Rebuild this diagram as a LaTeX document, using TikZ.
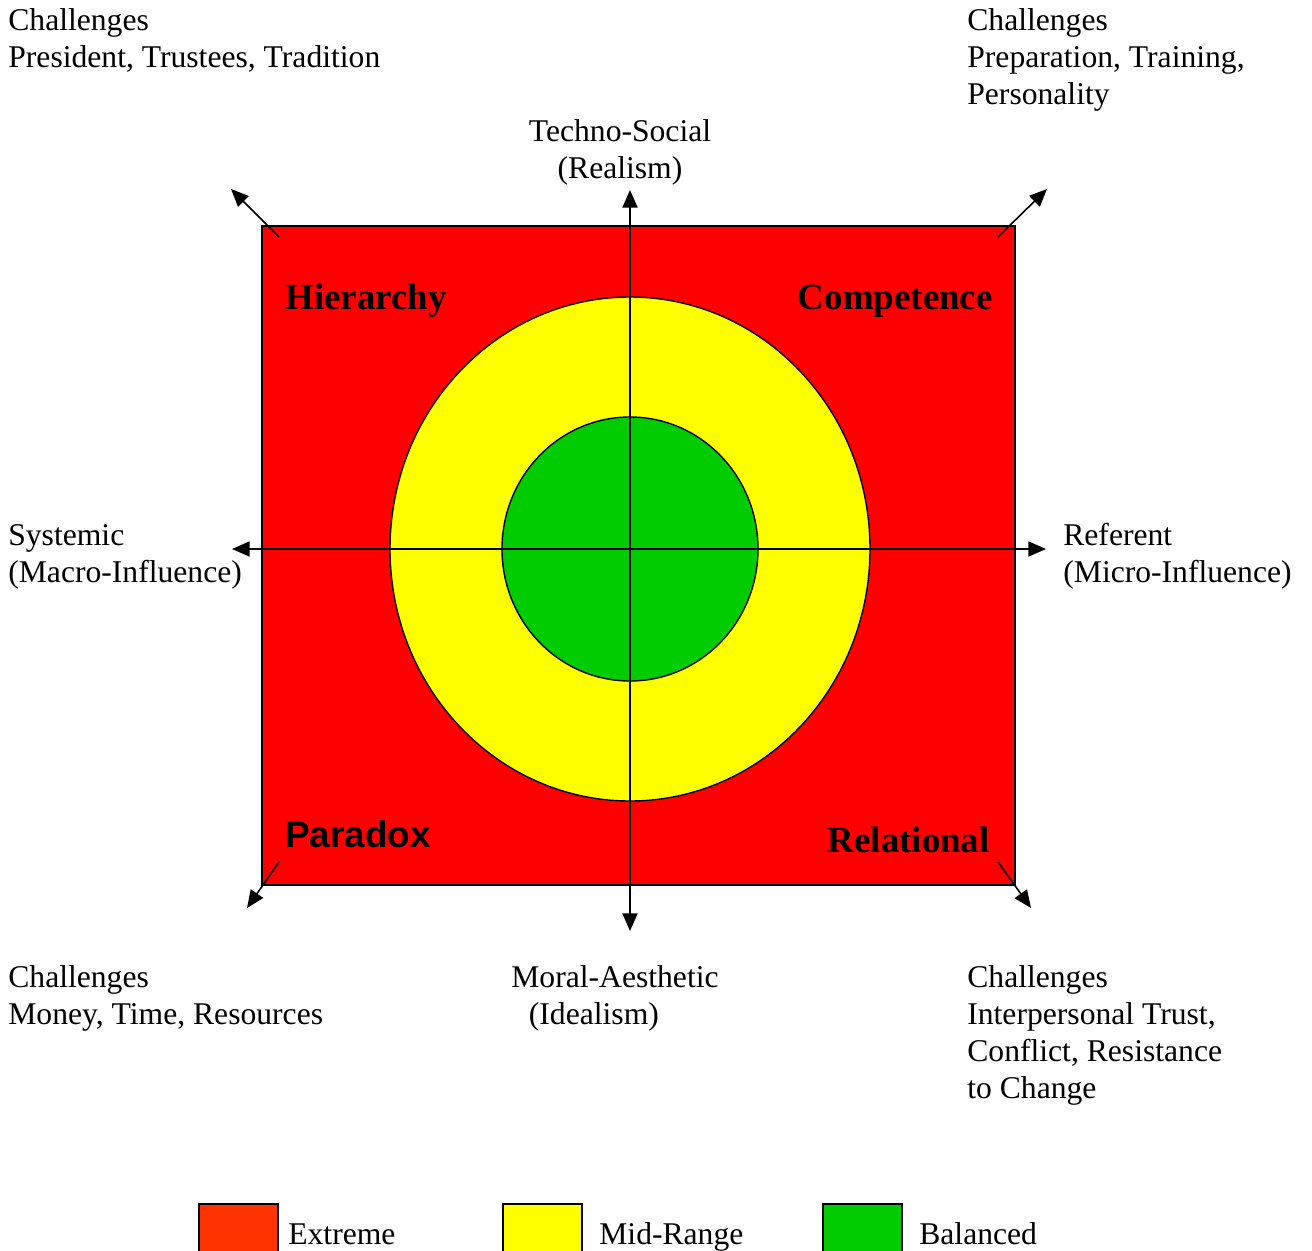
\documentclass[tikz,border=0pt]{standalone}
\usepackage{fontspec}
\setmainfont{Liberation Serif}
\newfontfamily\arialfont{Liberation Sans}
\usetikzlibrary{arrows.meta}

\definecolor{boardred}{HTML}{FF0000}
\definecolor{keyred}{HTML}{FF3300}
\definecolor{midyellow}{HTML}{FFFF00}
\definecolor{balgreen}{HTML}{00CC00}

\begin{document}
\begin{tikzpicture}[
    x=0.02cm, y=-0.02cm,
    txt/.style={font=\fontsize{18}{21}\selectfont, inner sep=0pt, align=left},
    quad/.style={font=\fontsize{21}{24}\selectfont\bfseries, inner sep=0pt},
    axis/.style={line width=1.1pt, >={Triangle[length=10pt, width=8.5pt]}},
    diag/.style={->, line width=0.9pt, >={Triangle[length=10pt, width=8.5pt]}},
    key/.style={draw, line width=0.8pt, inner sep=0pt,
        minimum width=1.58cm, minimum height=0.96cm},
]
\useasboundingbox (0,0) rectangle (1312,1251);

% --- board and rings ---
\draw[fill=boardred, line width=1.1pt] (262,226) rectangle (1015,885);
\draw[fill=midyellow, line width=0.8pt] (630,549) ellipse [x radius=240, y radius=252];
\draw[fill=balgreen, line width=0.8pt] (630,549) ellipse [x radius=128, y radius=132];

% --- axes ---
\coordinate (up) at (630,190);
\coordinate (down) at (630,931);
\coordinate (left) at (232,549);
\coordinate (right) at (1046,549);
\draw[axis, <->] (down) -- (up);
\draw[axis, <->] (left) -- (right);

% --- corner arrows ---
\coordinate (tlIn) at (279,237);  \coordinate (tlOut) at (231,189);
\coordinate (trIn) at (998,237);  \coordinate (trOut) at (1047,189);
\coordinate (blIn) at (279,862);  \coordinate (blOut) at (247,908);
\coordinate (brIn) at (998,862);  \coordinate (brOut) at (1031,908);
\draw[diag] (tlIn) -- (tlOut);
\draw[diag] (trIn) -- (trOut);
\draw[diag] (blIn) -- (blOut);
\draw[diag] (brIn) -- (brOut);

% --- quadrant names ---
\node[quad, anchor=base west] (hier) at (285,309) {Hierarchy};
\node[quad, anchor=base east] (comp) at (993,309) {Competence};
\node[quad, anchor=base west, font=\fontsize{21}{24}\selectfont\arialfont\bfseries] (parad) at (285,847) {Paradox};
\node[quad, anchor=base east] (relat) at (990,852) {Relational};

% --- axis labels (base = last line) ---
\node[txt, align=center, anchor=base] (techno) at (620,178) {Techno-Social\\(Realism)};
\node[txt, anchor=base west] (moral) at (511,1024) {Moral-Aesthetic\\\hspace*{10pt}(Idealism)};
\node[txt, anchor=base west] (syst) at (8,582) {Systemic\\(Macro-Influence)};
\node[txt, anchor=base west] (refer) at (1063,582) {Referent\\(Micro-Influence)};

% --- challenges ---
\node[txt, anchor=base west] (chalTL) at (8,67) {Challenges\\President, Trustees, Tradition};
\node[txt, anchor=base west] (chalTR) at (967,104) {Challenges\\Preparation, Training,\\Personality};
\node[txt, anchor=base west] (chalBL) at (8,1024) {Challenges\\Money, Time, Resources};
\node[txt, anchor=base west] (chalBR) at (967,1098) {Challenges\\Interpersonal Trust,\\Conflict, Resistance\\to Change};

% --- legend ---
\node[key, fill=keyred] (kExt) at (238.5,1228) {};
\node[key, fill=midyellow] (kMid) at (542.5,1228) {};
\node[key, fill=balgreen] (kBal) at (862.5,1228) {};
\node[txt, anchor=base west] (lExt) at (288,1244) {Extreme};
\node[txt, anchor=base west] (lMid) at (599,1244) {Mid-Range};
\node[txt, anchor=base west] (lBal) at (919,1244) {Balanced};

\end{tikzpicture}
\end{document}
